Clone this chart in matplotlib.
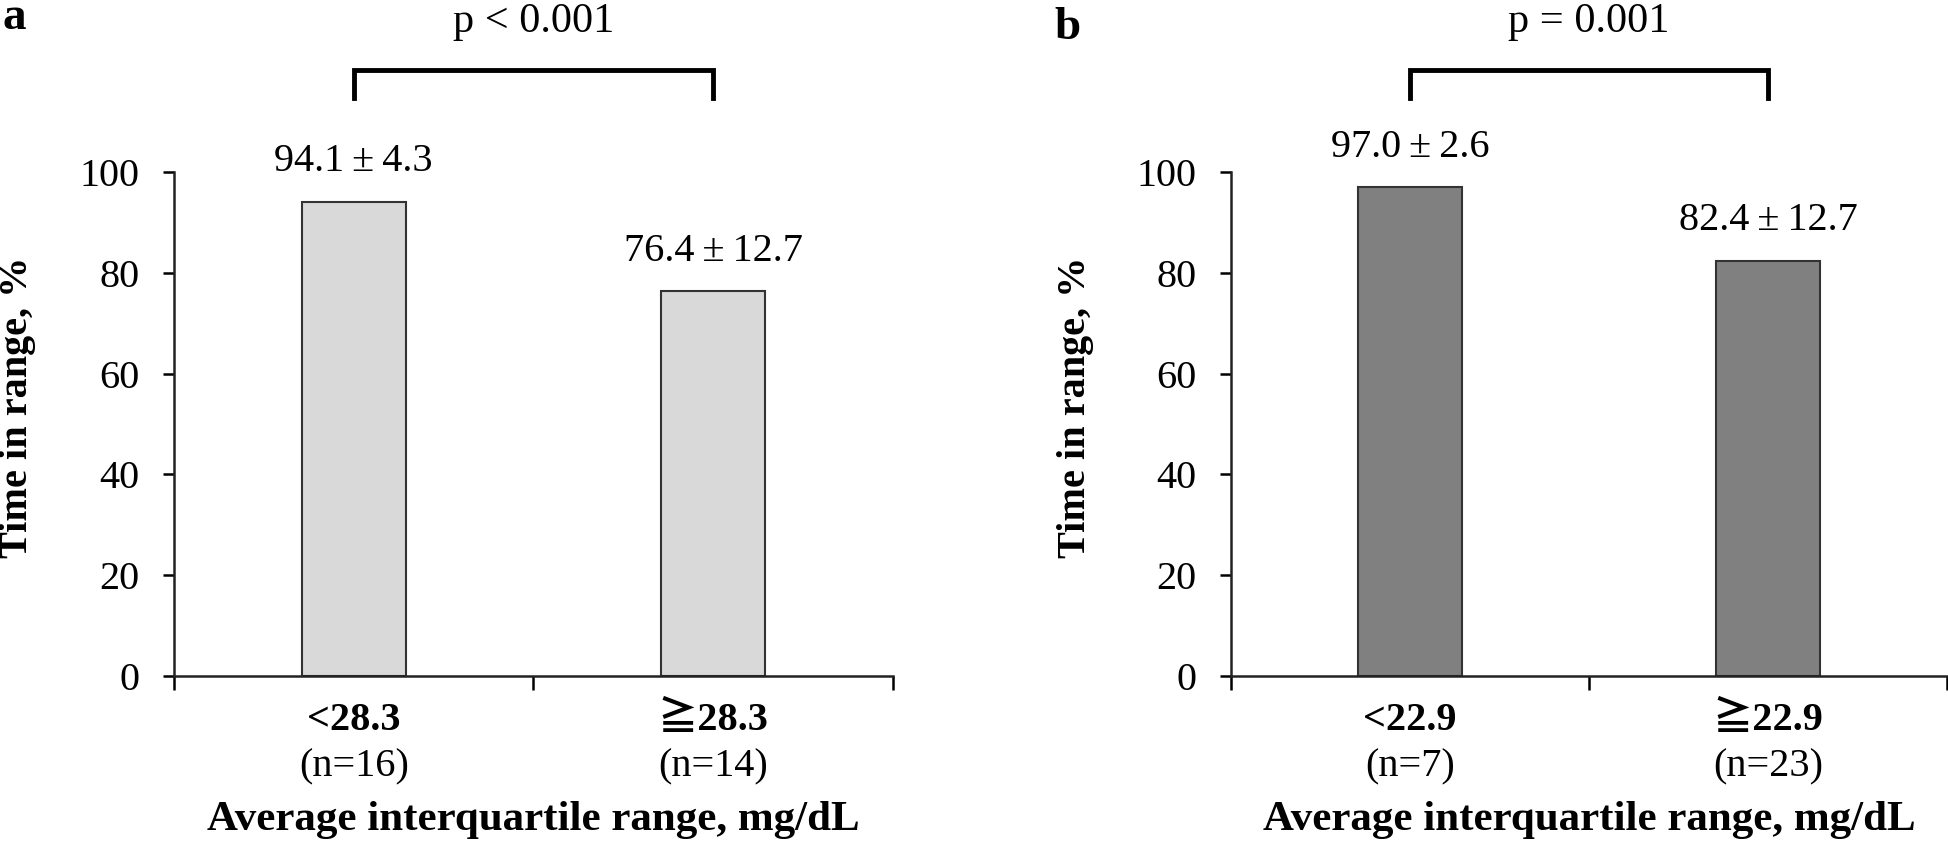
import matplotlib
matplotlib.use("Agg")
import matplotlib.pyplot as plt

# panel a
cats_a = ["<28.3", "≧28.3"]
n_a = ["(n=16)", "(n=14)"]
mean_a = [94.1, 76.4]
sd_a = [4.3, 12.7]
p_a = "p < 0.001"

# panel b
cats_b = ["<22.9", "≧22.9"]
n_b = ["(n=7)", "(n=23)"]
mean_b = [97.0, 82.4]
sd_b = [2.6, 12.7]
p_b = "p = 0.001"

yticks = [0, 20, 40, 60, 80, 100]
ylab = "Time in range, %"
xlab = "Average interquartile range, mg/dL"

FONT = ["Liberation Serif", "Noto Sans CJK JP", "DejaVu Sans"]
plt.rcParams["font.family"] = FONT
FS = 29


def panel(ax, cats, ns, means, sds, pval, color):
    x = list(range(len(cats)))
    ax.bar(x, means, width=0.29, color=color, edgecolor="#333333", linewidth=1.5, zorder=2)
    ax.set_xlim(-0.5, 1.5)
    ax.set_ylim(0, 100)
    ax.spines["top"].set_visible(False)
    ax.spines["right"].set_visible(False)
    for s in ("left", "bottom"):
        ax.spines[s].set_linewidth(1.8)
        ax.spines[s].set_color("#222222")
        ax.spines[s].set_zorder(3)

    ax.set_yticks(yticks)
    ax.tick_params(axis="y", length=8, width=1.8, pad=17, labelsize=FS)

    # category labels on major ticks, boundary ticks as minor
    ax.set_xticks(x)
    ax.set_xticklabels(cats, fontweight="bold", fontsize=FS)
    ax.tick_params(axis="x", which="major", length=0, pad=19)
    ax.set_xticks([-0.5, 0.5, 1.5], minor=True)
    ax.tick_params(axis="x", which="minor", length=10, width=1.8)

    for i, n in enumerate(ns):
        ax.annotate(n, xy=(i, 0), xycoords=("data", "axes fraction"),
                    xytext=(0, -72), textcoords="offset points",
                    ha="center", va="baseline", fontsize=FS)

    for i, (m, s) in enumerate(zip(means, sds)):
        ax.text(i, m + 6, f"{m:.1f}\u2009±\u2009{s:.1f}", ha="center", va="baseline",
                fontsize=FS, clip_on=False)

    # significance bracket
    ax.plot([0, 0, 1, 1], [114.7, 120.2, 120.2, 114.7], color="black",
            lw=3.5, clip_on=False, solid_joinstyle="miter")
    ax.text(0.5, 127.8, pval, ha="center", va="baseline", fontsize=30.5, clip_on=False)

    ax.set_xlabel(xlab, fontweight="bold", fontsize=31)
    ax.xaxis.set_label_coords(0.5, -0.306)
    ax.xaxis.label.set_va("baseline")
    ax.set_ylabel(ylab, fontweight="bold", fontsize=FS)
    ax.yaxis.set_label_coords(-0.217, 0.534)
    ax.yaxis.label.set_va("center")


fig = plt.figure(figsize=(19.48, 8.43), dpi=100)
ax1 = fig.add_axes([0.0893, 0.1981, 0.3691, 0.5979])
ax2 = fig.add_axes([0.6319, 0.1981, 0.3676, 0.5979])

panel(ax1, cats_a, n_a, mean_a, sd_a, p_a, "#d9d9d9")
panel(ax2, cats_b, n_b, mean_b, sd_b, p_b, "#808080")

fig.text(0.0015, 1 - 29 / 843, "a", fontsize=34, fontweight="bold", va="baseline")
fig.text(1054 / 1948, 1 - 39 / 843, "b", fontsize=34, fontweight="bold", va="baseline")

fig.savefig("out.png", dpi=100)
